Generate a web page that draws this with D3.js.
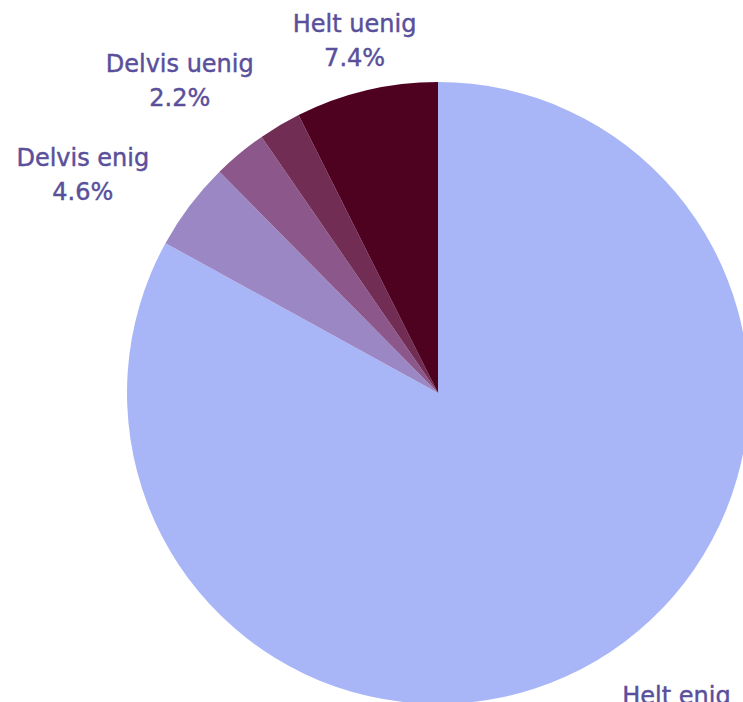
<!DOCTYPE html>
<html><head><meta charset="utf-8">
<script src="https://cdn.jsdelivr.net/npm/d3@7"></script>
<style>html,body{margin:0;padding:0;background:#fff;overflow:hidden}</style>
</head><body>
<svg id="chart" width="743" height="702"></svg>
<script>
const categories = ["Helt enig", "Delvis enig", "Verken enig eller uenig", "Delvis uenig", "Helt uenig"];
const values = [83.0, 4.6, 2.8, 2.2, 7.4];
const colors = ["#a8b6f8", "#9c87c5", "#8c588c", "#722d55", "#4f0220"];
const showLabel = [true, true, false, true, true];

const svg = d3.select("#chart");
const cx = 438, cy = 393, r = 311, labelR = 362;
const data = categories.map((c, i) => ({ name: c, value: values[i], color: colors[i], show: showLabel[i] }));
const pie = d3.pie().value(d => d.value).sort(null);
const arcs = pie(data);
const arc = d3.arc().innerRadius(0).outerRadius(r);
const g = svg.append("g").attr("transform", `translate(${cx},${cy})`);
g.selectAll("path").data(arcs).enter().append("path")
  .attr("d", arc).attr("fill", d => d.data.color);

const fmt = d3.format(".1f");
g.selectAll("text.lbl").data(arcs.filter(a => a.data.show)).enter().append("text")
  .attr("class", "lbl")
  .attr("font-family", "'DejaVu Sans', sans-serif")
  .attr("font-size", 24)
  .attr("fill", "#5a4f9b")
  .attr("stroke", "#5a4f9b")
  .attr("stroke-width", 0.45)
  .each(function(a) {
    const m = (a.startAngle + a.endAngle) / 2;
    const x = labelR * Math.sin(m);
    let y = -labelR * Math.cos(m);
    if (Math.cos(m) < 0) y += 8;
    const s = Math.sin(m);
    const anchor = Math.abs(s) < 0.35 ? "middle" : (s > 0 ? "start" : "end");
    const t = d3.select(this).attr("text-anchor", "middle");
    const t1 = t.append("tspan").text(a.data.name);
    const t2 = t.append("tspan").text(fmt(a.data.value) + "%");
    const w = Math.max(t1.node().getComputedTextLength(), t2.node().getComputedTextLength());
    let xc = x;
    if (anchor === "start") xc = x + w / 2;
    if (anchor === "end") xc = x - w / 2;
    t1.attr("x", xc).attr("y", y - 17 + 8);
    t2.attr("x", xc).attr("y", y + 17 + 8);
  });
</script>
</body></html>
